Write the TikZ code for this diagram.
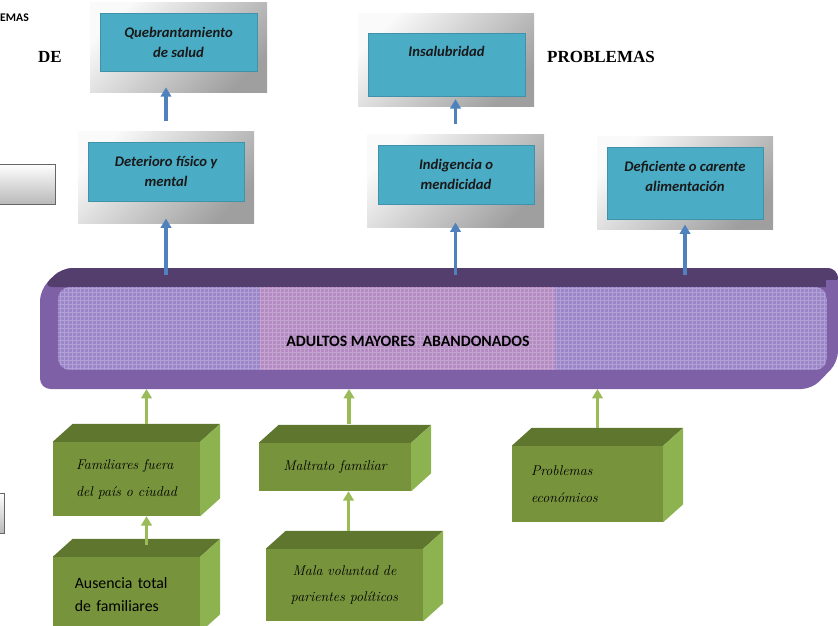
\documentclass[tikz,border=0pt]{standalone}
\usepackage{fontspec}
\newfontfamily\calfont{Carlito}
\newfontfamily\timesfont{Liberation Serif}
\usetikzlibrary{arrows.meta,positioning,calc}
\definecolor{fxcyan}{RGB}{75,172,198}
\definecolor{fxblue}{RGB}{79,129,189}
\definecolor{cagreen}{RGB}{119,147,60}
\definecolor{cagreentop}{RGB}{94,118,46}
\definecolor{cagreenside}{RGB}{141,178,80}
\definecolor{caarrow}{RGB}{155,187,89}
\definecolor{barfront}{RGB}{126,96,166}
\definecolor{bartop}{RGB}{83,62,110}
\definecolor{barlav}{RGB}{155,134,201}
\definecolor{barpink}{RGB}{180,140,195}

\tikzset{
  fxframe/.style={shade,top color=gray!4,bottom color=gray!75,shading angle=45,inner sep=0pt},
  fxbox/.style={fill=fxcyan,draw=fxcyan!85!black,line width=0.3pt,inner sep=0pt,align=center,
    font=\calfont\bfseries\itshape\fontsize{12.5}{17}\selectfont,text=black!90},
  cabox/.style={fill=cagreen,inner sep=0pt,align=left,text=black,
    font=\itshape\fontsize{12}{23}\selectfont},
  bluearrow/.style={draw=fxblue,line width=3pt,-{Triangle[width=9pt,length=8pt]}},
  greenarrow/.style={draw=caarrow,line width=3pt,-{Triangle[width=9pt,length=8pt]}},
  toptitle/.style={font=\timesfont\bfseries\fontsize{14.5}{16}\selectfont}
}

\begin{document}
\begin{tikzpicture}[x=0.3mm,y=0.3mm]
  \useasboundingbox (0,0) rectangle (838,-625);
  \clip (0,0) rectangle (838,-625);

  % titles
  \node[anchor=west,font=\calfont\bfseries\fontsize{10}{12}\selectfont,inner sep=0pt] (emas) at (0,-18) {EMAS};
  \node[toptitle] (de) at (50,-57) {DE};
  \node[toptitle] (prob) at (601,-57) {PROBLEMAS};

  % grey boxes at the left edge
  \draw[gray!80!black,top color=white,bottom color=gray!55] (-5,-164) rectangle (55,-204);
  \draw[gray!80!black,top color=white,bottom color=gray!55] (-5,-493) rectangle (4,-533);

  % effects
  \node[fxframe,minimum width=53.1mm,minimum height=27mm] (f1) at (178.5,-48) {};
  \node[fxbox,minimum width=47.1mm,minimum height=17.4mm] (q1) at (178.5,-42) {Quebrantamiento\\de salud};
  \node[fxframe,minimum width=52.8mm,minimum height=27.3mm] (f2) at (166,-177.5) {};
  \node[fxbox,minimum width=46.8mm,minimum height=17.7mm] (q2) at (166,-171.5) {Deterioro físico y\\mental};
  \node[fxframe,minimum width=52.8mm,minimum height=27.6mm] (f3) at (446,-60) {};
  \node[fxbox,minimum width=47.1mm,minimum height=18.9mm] (q3) at (446.5,-64.5) {Insalubridad\\\strut};
  \node[fxframe,minimum width=53.1mm,minimum height=27.9mm] (f4) at (455.5,-180.5) {};
  \node[fxbox,minimum width=46.8mm,minimum height=17.7mm] (q4) at (456,-174.5) {Indigencia o\\mendicidad};
  \node[fxframe,minimum width=52.8mm,minimum height=27.9mm] (f5) at (685,-182.5) {};
  \node[fxbox,minimum width=46.8mm,minimum height=21.6mm] (q5) at (685,-183) {Deficiente o carente\\alimentación\\[-6pt]\mbox{}};

  % central problem
  \fill[barfront,rounded corners=9pt] (40,-389) -- (40,-290) -- (62,-268) -- (838,-268)
    -- (838,-362) -- (812,-389) -- cycle;
  \fill[bartop,rounded corners=9pt] (42,-287) -- (62,-268) -- (838,-268) -- (838,-287) -- cycle;
  \fill[barfront] (826,-280) rectangle (838,-300);
  \begin{scope}
    \clip[rounded corners=10pt] (58,-287) rectangle (827,-370);
    \fill[barlav] (58,-287) rectangle (260,-370);
    \fill[barpink] (260,-287) rectangle (555,-370);
    \fill[barlav] (555,-287) rectangle (827,-370);
    \draw[white,opacity=0.22,line width=0.3pt,step=4] (58,-370) grid (827,-287);
  \end{scope}
  \node[font=\calfont\bfseries\fontsize{13.5}{16}\selectfont] (adultos) at (408,-341) {ADULTOS MAYORES\ \ ABANDONADOS};
  \coordinate (bart) at (0,-275);
  \coordinate (barb) at (0,-389);

  % causes
  \node[cabox,minimum width=44.1mm,minimum height=22.2mm] (fa) at (126.5,-479) {Familiares fuera\\del país o ciudad};
  \node[cabox,minimum width=44.1mm,minimum height=22.5mm,font=\calfont\fontsize{13.5}{19}\selectfont,text width=31mm] (fb) at (126.5,-594.5) {Ausencia total\\de familiares};
  \node[cabox,minimum width=45.6mm,minimum height=14.4mm] (fc) at (335,-467) {Maltrato familiar};
  \node[cabox,minimum width=47.1mm,minimum height=21.6mm,align=center,font=\itshape\fontsize{12}{22}\selectfont] (fd) at (344.5,-585) {Mala voluntad de\\parientes políticos};
  \node[cabox,minimum width=45.3mm,minimum height=22.8mm,text width=33.9mm] (fe) at (587.5,-484) {Problemas\\económicos};
  \foreach \n in {fa,fb,fc,fd,fe} {
    \fill[cagreentop] (\n.north west) -- ++(20,18) -- ($(\n.north east)+(20,18)$) -- (\n.north east) -- cycle;
    \fill[cagreenside] (\n.north east) -- ++(20,18) -- ($(\n.south east)+(20,18)$) -- (\n.south east) -- cycle;
  }

  % arrows
  \draw[bluearrow] (f2.south |- bart) -- ([yshift=4pt]f2.south);
  \draw[bluearrow] (f4.south |- bart) -- ([yshift=4pt]f4.south);
  \draw[bluearrow] (f5.south |- bart) -- ([yshift=4pt]f5.south);
  \draw[bluearrow,shorten <=9pt] (f2.north) -- ([yshift=5pt]f2.north |- f1.south);
  \draw[bluearrow,shorten <=8pt] (f4.north) -- ([yshift=6pt]f4.north |- f3.south);

  \coordinate (ta) at ($(fa.north)+(20,18)$);
  \coordinate (tb) at ($(fb.north)+(20,12)$);
  \coordinate (tc) at ($(fc.north)+(14,19)$);
  \coordinate (td) at ($(fd.north)+(4,18)$);
  \coordinate (te) at ($(fe.north)+(10,18)$);
  \draw[greenarrow] (ta) -- (ta |- barb);
  \draw[greenarrow] (tb) -- (tb |- fa.south);
  \draw[greenarrow] (tc) -- (tc |- barb);
  \draw[greenarrow] (td) -- (td |- fc.south);
  \draw[greenarrow] (te) -- (te |- barb);
\end{tikzpicture}
\end{document}
